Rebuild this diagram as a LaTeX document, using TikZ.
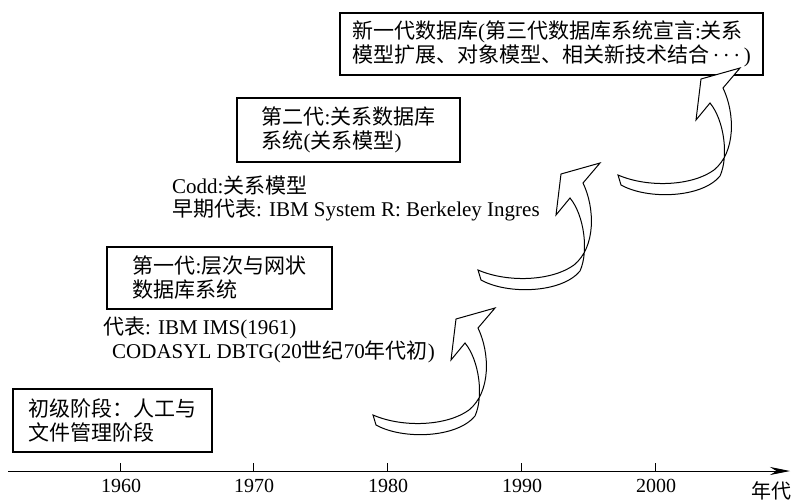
\documentclass[tikz,border=0pt]{standalone}
\usepackage{fontspec}
\setmainfont{Liberation Serif}
\newfontfamily\cjkfont{Noto Sans CJK SC}
\newcommand\cjk[1]{{\cjkfont #1}}
\usetikzlibrary{arrows.meta}

\tikzset{
  stagebox/.style={draw, line width=1.8pt, fill=white, align=left, inner sep=0pt,
    font=\fontsize{21}{24}\selectfont},
  note/.style={align=left, inner sep=0pt, anchor=west, font=\fontsize{21}{23.5}\selectfont},
  yearlabel/.style={inner sep=0pt, font=\fontsize{20}{22}\selectfont},
  tickmark/.style={line width=0.9pt},
  % hollow curved arrow, tip at the pic origin, tail at lower left
  turnarrow/.pic={
    \draw[line width=1pt, fill=white, line join=miter]
      (0,0) -- (-17,20)
      .. controls (-5,45) and (-4,84) .. (-26,102)
      .. controls (-48,118) and (-92,120) .. (-122,107)
      -- (-119,117)
      .. controls (-92,132) and (-38,130) .. (-20,108)
      .. controls (-11,88) and (-16,52) .. (-30,35)
      -- (-44,52) -- (-39,11) -- cycle;
  }
}

\begin{document}
\begin{tikzpicture}[x=1pt, y=-1pt]
  \useasboundingbox (0,0) rectangle (792,500);

  % time axis
  \coordinate (axisstart) at (8,471);
  \coordinate (axisend) at (790,471);
  \draw[line width=0.9pt, -{Stealth[length=20pt, width=8pt]}] (axisstart) -- (axisend);
  \draw[tickmark] (120,471) -- (120,463);
  \draw[tickmark] (253,471) -- (253,463);
  \draw[tickmark] (387,471) -- (387,463);
  \draw[tickmark] (521,471) -- (521,463);
  \draw[tickmark] (655,471) -- (655,463);
  \node[yearlabel] (y1960) at (121,486) {1960};
  \node[yearlabel] (y1970) at (254,486) {1970};
  \node[yearlabel] (y1980) at (388,486) {1980};
  \node[yearlabel] (y1990) at (522,486) {1990};
  \node[yearlabel] (y2000) at (656,486) {2000};
  \node[inner sep=0pt, font=\fontsize{20}{22}\selectfont] (unit) at (771,491) {\cjk{年代}};

  % stage boxes
  \node[stagebox, minimum width=199pt, minimum height=63pt] (stage0) at (112.5,420.5)
    {\cjk{初级阶段：人工与}\\\cjk{文件管理阶段}};
  \node[stagebox, minimum width=225pt, minimum height=62pt] (stage1) at (219.5,278)
    {\cjk{第一代}:\cjk{层次与网状}\\\cjk{数据库系统}};
  \node[stagebox, minimum width=223pt, minimum height=64pt] (stage2) at (348.5,130)
    {\cjk{第二代}:\cjk{关系数据库}\\\cjk{系统}(\cjk{关系模型})};
  \node[stagebox, minimum width=423pt, minimum height=62pt] (stage3) at (551.5,44)
    {\cjk{新一代数据库}(\cjk{第三代数据库系统宣言}:\cjk{关系}\\\cjk{模型扩展、对象模型、相关新技术结合}\,·\,·\,·\,)};

  % representative systems
  \node[note] (rep1) at (103,340)
    {\cjk{代表}: IBM IMS(1961)\\\hspace*{9pt}CODASYL DBTG(20\cjk{世纪}70\cjk{年代初})};
  \node[note] (rep2) at (172,198.5)
    {Codd:\cjk{关系模型}\\\cjk{早期代表}: IBM System R: Berkeley Ingres};

  % curved arrows between the stages
  \pic at (495,308) {turnarrow};
  \pic at (600,163) {turnarrow};
  \pic at (740,68) {turnarrow};
\end{tikzpicture}
\end{document}
